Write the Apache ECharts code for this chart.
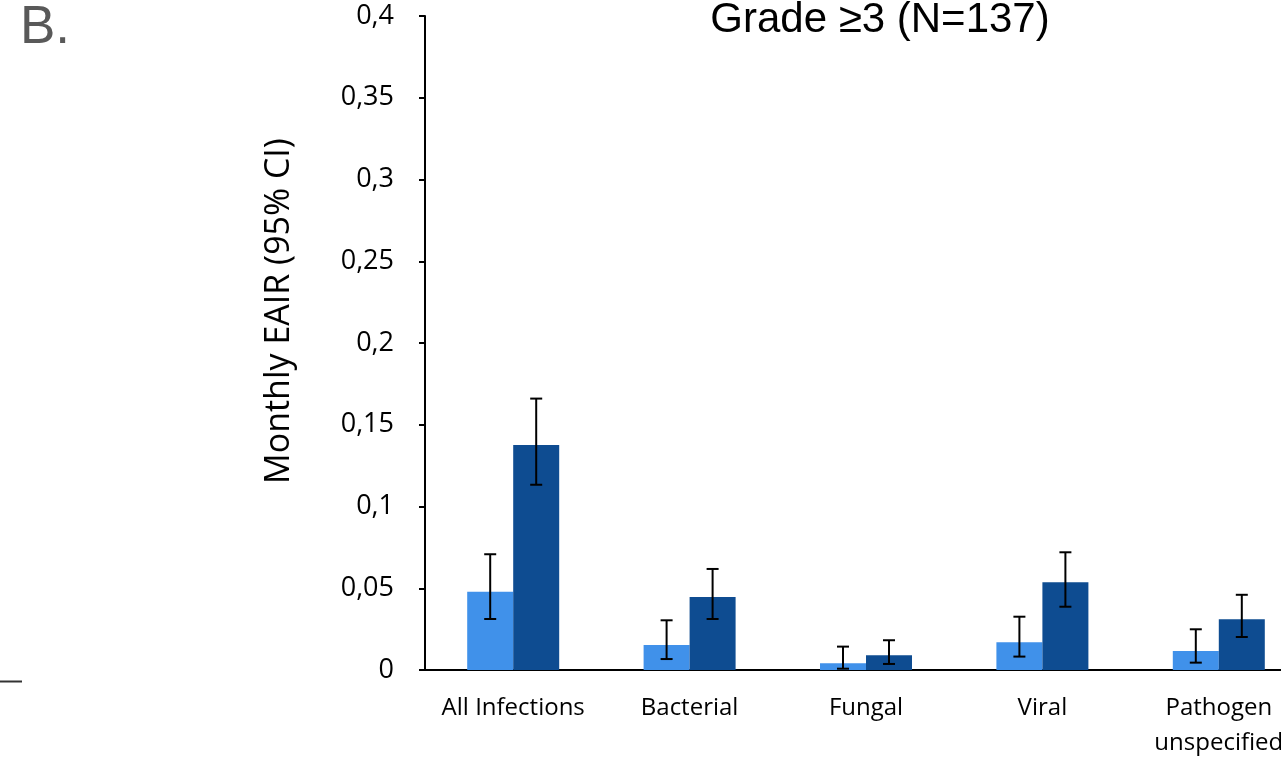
<!DOCTYPE html>
<html>
<head>
<meta charset="utf-8">
<script src="https://cdn.jsdelivr.net/npm/echarts@6/dist/echarts.min.js"></script>
<style>html,body{margin:0;padding:0;background:#fff;overflow:hidden;}#c{width:1330px;height:765px;}</style>
</head>
<body>
<div id="c"></div>
<script>
var categories = ['All Infections', 'Bacterial', 'Fungal', 'Viral', 'Pathogen\nunspecified'];
var lightValues = [0.0479, 0.0153, 0.0041, 0.0169, 0.0116];
var lightLow    = [0.0312, 0.0067, 0.0008, 0.0082, 0.0045];
var lightHigh   = [0.0708, 0.0304, 0.0143, 0.0326, 0.0249];
var darkValues  = [0.1376, 0.0447, 0.0090, 0.0536, 0.0310];
var darkLow     = [0.1133, 0.0312, 0.0037, 0.0387, 0.0202];
var darkHigh    = [0.1660, 0.0618, 0.0182, 0.0720, 0.0460];
var yTicks = [0, 0.05, 0.1, 0.15, 0.2, 0.25, 0.3, 0.35, 0.4];

var BAR_W = 46;
function errSeries(low, high, offset) {
  return {
    type: 'custom',
    z: 10,
    clip: false,
    data: low.map(function (l, i) { return [i, l, high[i]]; }),
    encode: { x: 0, y: [1, 2] },
    renderItem: function (params, api) {
      var lo = api.coord([api.value(0), api.value(1)]);
      var hi = api.coord([api.value(0), api.value(2)]);
      var x = lo[0] + offset;
      var cap = 6;
      var st = { stroke: '#000', lineWidth: 2 };
      return {
        type: 'group',
        children: [
          { type: 'line', shape: { x1: x, y1: lo[1], x2: x, y2: hi[1] }, style: st },
          { type: 'line', shape: { x1: x - cap, y1: lo[1], x2: x + cap, y2: lo[1] }, style: st },
          { type: 'line', shape: { x1: x - cap, y1: hi[1], x2: x + cap, y2: hi[1] }, style: st }
        ]
      };
    }
  };
}

var chart = echarts.init(document.getElementById('c'));
chart.setOption({
  animation: false,
  backgroundColor: '#fff',
  grid: { left: 425, width: 882, top: 16, height: 654, containLabel: false },
  graphic: [
    { type: 'text', left: 20, top: 2, style: { text: 'B.', font: '53px "Liberation Sans", Arial, sans-serif', fill: '#595959' } },
    { type: 'text', x: 880, y: 20, style: { text: 'Grade ≥3 (N=137)', font: '42px "Liberation Sans", Arial, sans-serif', fill: '#000', align: 'center', verticalAlign: 'middle' } },
    { type: 'text', x: 279, y: 311, rotation: Math.PI / 2, style: { text: 'Monthly EAIR (95% CI)', font: '34px "Open Sans", sans-serif', fill: '#000', align: 'center', verticalAlign: 'middle' } },
    { type: 'line', shape: { x1: 0, y1: 681.5, x2: 22, y2: 681.5 }, style: { stroke: '#333', lineWidth: 2 } }
  ],
  xAxis: {
    type: 'category',
    data: categories,
    axisLine: { show: true, lineStyle: { color: '#000', width: 2 } },
    axisTick: { show: false },
    axisLabel: { color: '#000', fontFamily: 'Open Sans', fontSize: 24, lineHeight: 35, margin: 21, interval: 0 }
  },
  yAxis: {
    type: 'value',
    min: 0, max: 0.4, interval: 0.05,
    splitLine: { show: false },
    axisLine: { show: true, lineStyle: { color: '#000', width: 2 } },
    axisTick: { show: true, inside: false, length: 6, lineStyle: { color: '#000', width: 2 } },
    axisLabel: {
      color: '#000', fontFamily: 'Open Sans', fontSize: 27, margin: 31,
      formatter: function (v) {
        var t = yTicks.filter(function (k) { return Math.abs(k - v) < 1e-9; });
        var val = t.length ? t[0] : v;
        return String(Math.round(val * 100) / 100).replace('.', ',');
      }
    }
  },
  series: [
    { type: 'bar', data: lightValues, barWidth: BAR_W, barGap: '0%', itemStyle: { color: '#4091EA' } },
    { type: 'bar', data: darkValues, barWidth: BAR_W, barGap: '0%', itemStyle: { color: '#0E4C91' } },
    errSeries(lightLow, lightHigh, -BAR_W / 2),
    errSeries(darkLow, darkHigh, BAR_W / 2)
  ]
});
</script>
</body>
</html>
